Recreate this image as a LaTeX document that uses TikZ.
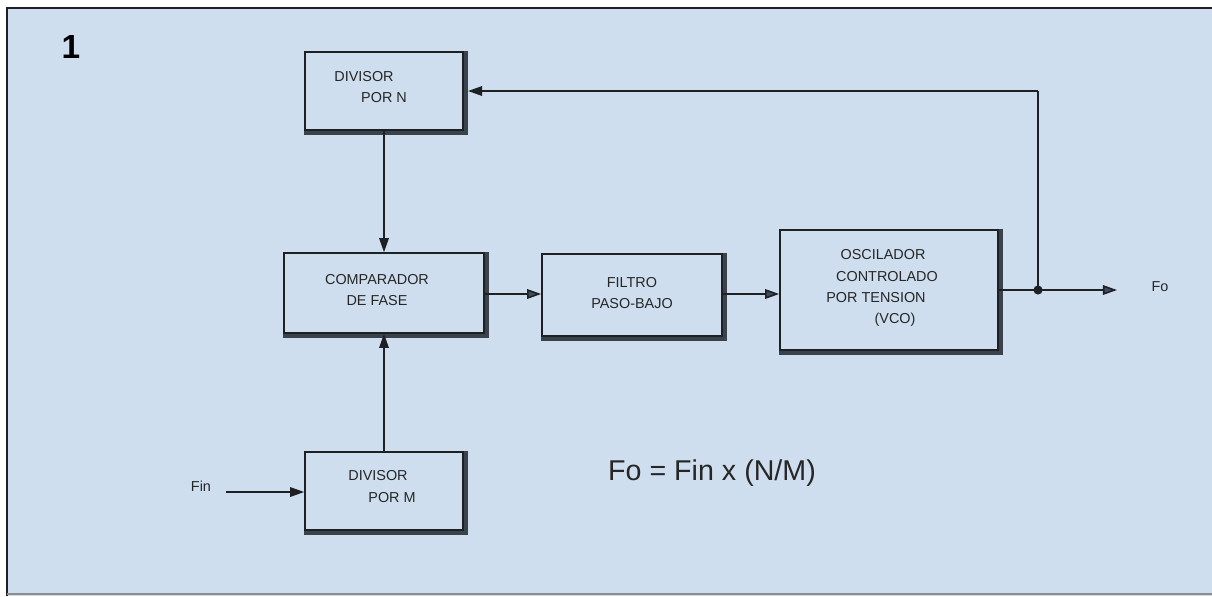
\documentclass[tikz,border=0pt]{standalone}
\usepackage{fontspec}
\setmainfont{Liberation Sans}
\usetikzlibrary{arrows.meta}
\definecolor{bg}{RGB}{206,222,238}
\definecolor{lineC}{RGB}{30,32,36}
\definecolor{tipC}{RGB}{62,78,96}
\definecolor{shadowC}{RGB}{58,66,76}
\tikzset{
  box/.style={draw=lineC, line width=0.9pt, fill=bg, inner sep=0pt},
  shadowline/.style={draw=shadowC, line width=2.4pt},
  txt/.style={font=\fontsize{8.2}{10}\selectfont, text=black!85, inner sep=0pt},
  conn/.style={draw=lineC, line width=0.9pt, -{Triangle[length=8pt,width=5.4pt]}},
  connb/.style={draw=lineC, line width=0.9pt, -{Triangle[length=8pt,width=5.4pt,fill=tipC]}},
  plain/.style={draw=lineC, line width=0.9pt},
}
\begin{document}
\begin{tikzpicture}[x=0.02cm, y=-0.02cm]
\useasboundingbox (0,0) rectangle (1212,596);
\fill[white] (0,0) rectangle (1212,596);
\fill[bg] (7,8) rectangle (1212,596);
\draw[lineC, line width=0.9pt] (7,596) -- (7,8) -- (1212,8);
\draw[black!45, line width=0.6pt] (7,594) -- (1212,594);

\node[font=\bfseries\fontsize{19}{21}\selectfont, inner sep=0pt] (num) at (71,47) {1};

% boxes
\node[box, minimum width=158*0.02cm, minimum height=78*0.02cm] (divN) at (384,91) {};
\node[box, minimum width=200*0.02cm, minimum height=80*0.02cm] (comp) at (384,293) {};
\node[box, minimum width=180*0.02cm, minimum height=82*0.02cm] (filt) at (632,295) {};
\node[box, minimum width=218*0.02cm, minimum height=120*0.02cm] (vco) at (889,290) {};
\node[box, minimum width=158*0.02cm, minimum height=78*0.02cm] (divM) at (384,491) {};

\foreach \n in {divN,comp,filt,vco,divM}{
  \draw[shadowline] ([xshift=1.2pt,yshift=0.4pt]\n.north east) -- ([xshift=1.2pt,yshift=-1.2pt]\n.south east) -- ([yshift=-1.2pt]\n.south west);
}

% texts
\node[txt] (tN1) at (364,77) {DIVISOR};
\node[txt] (tN2) at (384,98) {POR N};
\node[txt] (tC1) at (377,280) {COMPARADOR};
\node[txt] (tC2) at (377,301) {DE FASE};
\node[txt] (tF1) at (632,283) {FILTRO};
\node[txt] (tF2) at (632,304) {PASO-BAJO};
\node[txt] (tV1) at (883,255) {OSCILADOR};
\node[txt] (tV2) at (887,277) {CONTROLADO};
\node[txt] (tV3) at (876,298) {POR TENSION};
\node[txt] (tV4) at (895,320) {(VCO)};
\node[txt] (tM1) at (378,476) {DIVISOR};
\node[txt] (tM2) at (392,498) {POR M};
\node[txt] (fin) at (201,486) {Fin};
\node[txt] (fo) at (1160,287) {Fo};
\node[font=\fontsize{16.3}{18}\selectfont, text=black!85, inner sep=0pt] (eq) at (712,473) {Fo = Fin x (N/M)};

% connectors
\coordinate (finS) at (226,492);
\coordinate (junc) at (1038,290);
\coordinate (top) at (1038,91);
\coordinate (foE) at (1117,290);

\draw[conn] (divN.south) -- (comp.north);
\draw[conn] (divM.north) -- (comp.south);
\draw[conn] (finS) -- (finS -| divM.west);
\draw[connb] (comp.east |- 0,294) -- (filt.west |- 0,294);
\draw[connb] (filt.east |- 0,294) -- (vco.west |- 0,294);
\draw[connb] (vco.east |- junc) -- (foE);
\draw[plain] (junc) -- (top);
\draw[conn] (top) -- ([xshift=2.4pt]top -| divN.east);
\fill[lineC] (junc) circle (2.6pt);
\end{tikzpicture}
\end{document}
